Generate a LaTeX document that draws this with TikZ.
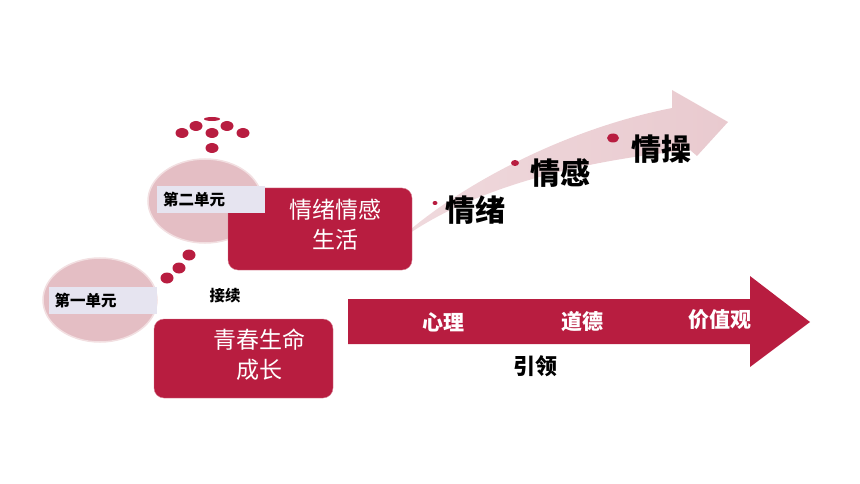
\documentclass[tikz,border=0pt]{standalone}
\usepackage{fontspec}
\setmainfont{Noto Sans CJK SC}
\usepackage{tikz}
\usetikzlibrary{shapes.geometric}
\definecolor{deepred}{RGB}{184,29,64}
\definecolor{softpink}{RGB}{228,190,196}
\definecolor{paleblue}{RGB}{230,228,240}
\definecolor{arrowpink}{RGB}{233,202,207}

\begin{document}
\begin{tikzpicture}[x=1pt, y=-1pt,
unit_ellipse/.style={ellipse,draw=softpink!50!white,line width=1.5pt,fill=softpink,minimum width=114pt,minimum height=84pt,inner sep=0pt},
unit_label/.style={rectangle,fill=paleblue,minimum width=108pt,minimum height=25pt,text width=96pt,align=left,inner sep=6pt,font=\fontsize{15.5}{17}\selectfont\bfseries},
topic_box/.style={rectangle,rounded corners=10pt,fill=deepred,draw=deepred!60!white},
topic_text/.style={text=white,align=center,font=\fontsize{23}{30}\selectfont},
dot_style/.style={ellipse,fill=deepred,minimum width=13pt,minimum height=10pt,inner sep=0pt},
step_text/.style={font=\fontsize{30}{32}\selectfont\bfseries},
bar_text/.style={text=white,font=\fontsize{21}{24}\selectfont\bfseries}]

\useasboundingbox (0,0) rectangle (860,484);

% dots above the second unit
\node[dot_style] (d1) at (182,133) {};
\node[dot_style] (d2) at (196,126) {};
\node[dot_style, minimum width=16pt, minimum height=4pt] (d3) at (212,119) {};
\node[dot_style] (d4) at (227,126) {};
\node[dot_style] (d5) at (243,133) {};
\node[dot_style] (d6) at (212,133) {};
\node[dot_style] (d7) at (212,148) {};

% dots between the units
\node[dot_style, minimum height=11pt] (d8) at (189,255) {};
\node[dot_style, minimum height=11pt] (d9) at (179,268) {};
\node[dot_style, minimum height=11pt] (d10) at (167,278) {};

% curved arrow
\shade[left color=arrowpink!70!white, right color=arrowpink] (392,246) .. controls (450,190) and (560,130) .. (672,108)
  -- (672,90) -- (728,122) -- (697,156) -- (690,150)
  .. controls (590,160) and (470,185) .. (392,246) -- cycle;
\node[dot_style, minimum width=5pt, minimum height=4pt] (s1) at (435,203) {};
\node[dot_style, minimum width=8pt, minimum height=6pt] (s2) at (515,163) {};
\node[dot_style, minimum width=12pt, minimum height=9pt] (s3) at (613,138) {};
\node[step_text] (feel1) at (475,210) {情绪};
\node[step_text] (feel2) at (560,173) {情感};
\node[step_text] (feel3) at (661,149) {情操};

% second unit
\node[unit_ellipse] (e2) at (205,201) {};
\node[topic_box, minimum width=184pt, minimum height=82pt] (box2) at (320,229) {};
\node[unit_label] (label2) at (211,199.5) {第二单元};
\node[topic_text] (box2text) at (335,225) {情绪情感\\生活};

% first unit
\node[unit_ellipse] (e1) at (100,300) {};
\node[topic_box, minimum width=179pt, minimum height=79pt] (box1) at (243.5,358.5) {};
\node[unit_label] (label1) at (102.5,300.5) {第一单元};
\node[topic_text] (box1text) at (259,355) {青春生命\\成长};

\node[font=\fontsize{15.5}{17}\selectfont\bfseries] (link) at (225,296) {接续};

% straight arrow
\fill[deepred] (348,299) -- (750,299) -- (750,276) -- (810,322)
  -- (750,367) -- (750,344) -- (348,344) -- cycle;
\node[bar_text] (v1) at (443,322) {心理};
\node[bar_text] (v2) at (582,322) {道德};
\node[bar_text] (v3) at (720,320) {价值观};
\node[font=\fontsize{22}{24}\selectfont\bfseries] (lead) at (535,366) {引领};

\end{tikzpicture}
\end{document}
